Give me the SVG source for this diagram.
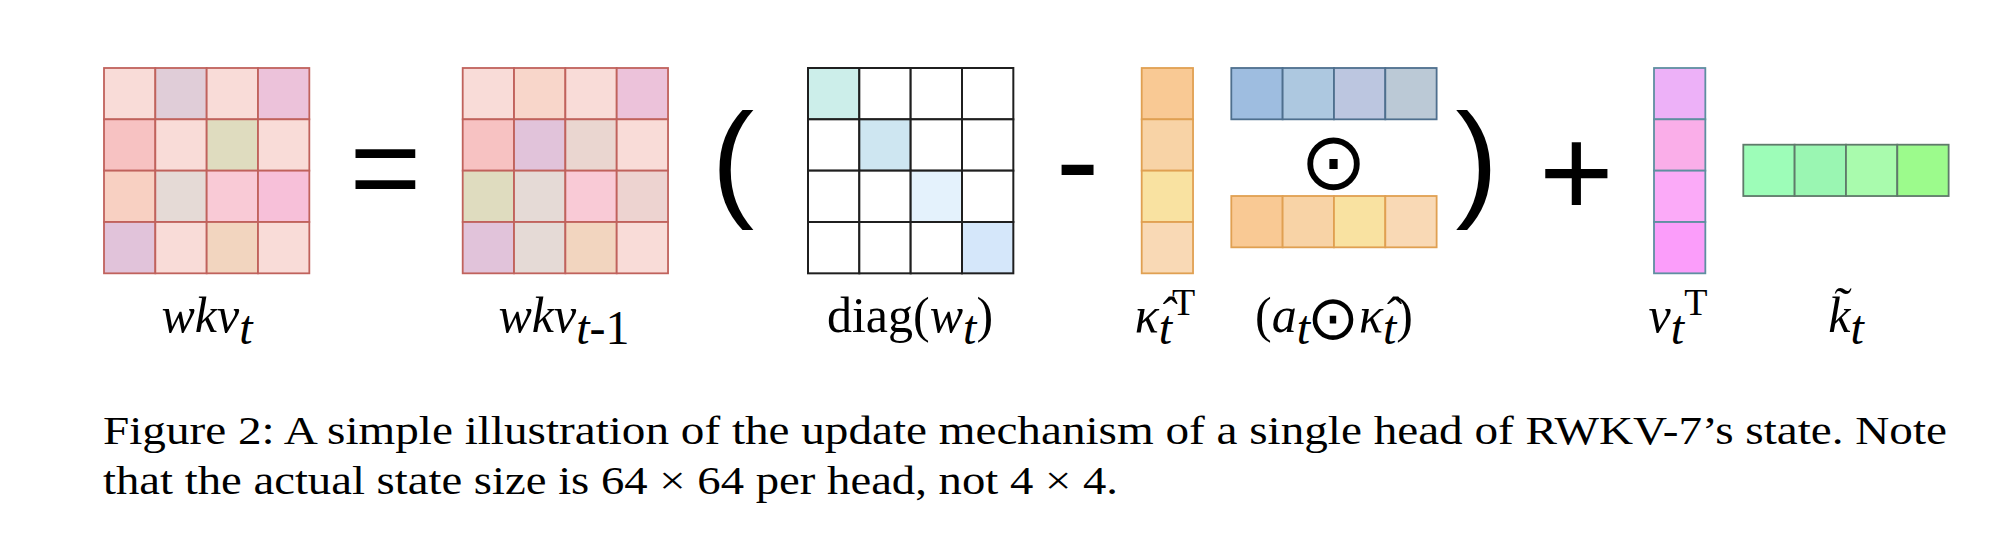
<svg xmlns="http://www.w3.org/2000/svg" width="2016" height="560" viewBox="0 0 2016 560">
<style>
.bg{fill:#ffffff}
.wk{stroke:#C0625C;stroke-width:1.8}
.dg{stroke:#1f1f1f;stroke-width:2}
.or{stroke:#E0A052;stroke-width:1.8}
.bl{stroke:#4E6F8E;stroke-width:1.8}
.pk{stroke:#5E8FA0;stroke-width:1.8}
.gr{stroke:#5F7A6A;stroke-width:1.8}
.op{font-family:"Liberation Sans",Arial,sans-serif;fill:#000;text-anchor:middle}
.lb{font-family:"Liberation Serif","Times New Roman",serif;font-size:50px;fill:#000;text-anchor:middle}
.it{font-style:italic}
.cap{font-family:"Liberation Serif","Times New Roman",serif;font-size:41px;fill:#000}
.sym{font-family:"DejaVu Sans",sans-serif;font-style:normal;font-weight:200}
</style>
<rect class="bg" x="0" y="0" width="2016" height="560"/>

<g id="wkv_t">
<rect class="wk" x="104" y="68" width="51.33" height="51.33" fill="#F9DCD8"/>
<rect class="wk" x="155.33" y="68" width="51.33" height="51.33" fill="#E0CDD8"/>
<rect class="wk" x="206.67" y="68" width="51.33" height="51.33" fill="#F9DCD8"/>
<rect class="wk" x="258" y="68" width="51.33" height="51.33" fill="#ECC2DA"/>
<rect class="wk" x="104" y="119.33" width="51.33" height="51.33" fill="#F7C2C2"/>
<rect class="wk" x="155.33" y="119.33" width="51.33" height="51.33" fill="#F9DCD8"/>
<rect class="wk" x="206.67" y="119.33" width="51.33" height="51.33" fill="#DFDCBF"/>
<rect class="wk" x="258" y="119.33" width="51.33" height="51.33" fill="#F9DCD8"/>
<rect class="wk" x="104" y="170.67" width="51.33" height="51.33" fill="#F8D0C2"/>
<rect class="wk" x="155.33" y="170.67" width="51.33" height="51.33" fill="#E5DAD6"/>
<rect class="wk" x="206.67" y="170.67" width="51.33" height="51.33" fill="#F9CAD6"/>
<rect class="wk" x="258" y="170.67" width="51.33" height="51.33" fill="#F7C0D9"/>
<rect class="wk" x="104" y="222" width="51.33" height="51.33" fill="#E1C3DA"/>
<rect class="wk" x="155.33" y="222" width="51.33" height="51.33" fill="#F9DCD8"/>
<rect class="wk" x="206.67" y="222" width="51.33" height="51.33" fill="#F2D5BF"/>
<rect class="wk" x="258" y="222" width="51.33" height="51.33" fill="#F9DCD8"/>
<text class="lb it" x="207" y="332">wkv<tspan dy="12" font-size="48">t</tspan></text>
</g>

<g id="equals">
<text class="op" x="385.5" y="209.5" font-size="123">=</text>
</g>

<g id="wkv_t_1">
<rect class="wk" x="462.7" y="68" width="51.33" height="51.33" fill="#F9DCD8"/>
<rect class="wk" x="514.03" y="68" width="51.33" height="51.33" fill="#F8D6CA"/>
<rect class="wk" x="565.37" y="68" width="51.33" height="51.33" fill="#F9DCD8"/>
<rect class="wk" x="616.7" y="68" width="51.33" height="51.33" fill="#ECC2DA"/>
<rect class="wk" x="462.7" y="119.33" width="51.33" height="51.33" fill="#F7C2C2"/>
<rect class="wk" x="514.03" y="119.33" width="51.33" height="51.33" fill="#E1C3DA"/>
<rect class="wk" x="565.37" y="119.33" width="51.33" height="51.33" fill="#EAD6D0"/>
<rect class="wk" x="616.7" y="119.33" width="51.33" height="51.33" fill="#F9DCD8"/>
<rect class="wk" x="462.7" y="170.67" width="51.33" height="51.33" fill="#DFDCBF"/>
<rect class="wk" x="514.03" y="170.67" width="51.33" height="51.33" fill="#E5DAD6"/>
<rect class="wk" x="565.37" y="170.67" width="51.33" height="51.33" fill="#F9CAD6"/>
<rect class="wk" x="616.7" y="170.67" width="51.33" height="51.33" fill="#EDD3D0"/>
<rect class="wk" x="462.7" y="222" width="51.33" height="51.33" fill="#E1C3DA"/>
<rect class="wk" x="514.03" y="222" width="51.33" height="51.33" fill="#E5DAD6"/>
<rect class="wk" x="565.37" y="222" width="51.33" height="51.33" fill="#F2D5BF"/>
<rect class="wk" x="616.7" y="222" width="51.33" height="51.33" fill="#F9DCD8"/>
<text class="lb it" x="564" y="332">wkv<tspan dy="12" font-size="48">t<tspan font-style="normal">-1</tspan></tspan></text>
</g>

<g id="lparen">
<text class="op" x="732.7" y="203" font-size="128">(</text>
</g>

<g id="diag_w">
<rect class="dg" x="808" y="68" width="51.33" height="51.33" fill="#CCEEEA"/>
<rect class="dg" x="859.33" y="68" width="51.33" height="51.33" fill="#FFFFFF"/>
<rect class="dg" x="910.67" y="68" width="51.33" height="51.33" fill="#FFFFFF"/>
<rect class="dg" x="962" y="68" width="51.33" height="51.33" fill="#FFFFFF"/>
<rect class="dg" x="808" y="119.33" width="51.33" height="51.33" fill="#FFFFFF"/>
<rect class="dg" x="859.33" y="119.33" width="51.33" height="51.33" fill="#CEE6F1"/>
<rect class="dg" x="910.67" y="119.33" width="51.33" height="51.33" fill="#FFFFFF"/>
<rect class="dg" x="962" y="119.33" width="51.33" height="51.33" fill="#FFFFFF"/>
<rect class="dg" x="808" y="170.67" width="51.33" height="51.33" fill="#FFFFFF"/>
<rect class="dg" x="859.33" y="170.67" width="51.33" height="51.33" fill="#FFFFFF"/>
<rect class="dg" x="910.67" y="170.67" width="51.33" height="51.33" fill="#E4F2FC"/>
<rect class="dg" x="962" y="170.67" width="51.33" height="51.33" fill="#FFFFFF"/>
<rect class="dg" x="808" y="222" width="51.33" height="51.33" fill="#FFFFFF"/>
<rect class="dg" x="859.33" y="222" width="51.33" height="51.33" fill="#FFFFFF"/>
<rect class="dg" x="910.67" y="222" width="51.33" height="51.33" fill="#FFFFFF"/>
<rect class="dg" x="962" y="222" width="51.33" height="51.33" fill="#D5E7FA"/>
<text class="lb" x="910" y="332">diag(<tspan class="it">w</tspan><tspan class="it" dy="12" font-size="48">t</tspan><tspan dy="-12">)</tspan></text>
</g>

<g id="minus">
<text class="op" x="1077.5" y="204.8" font-size="131">-</text>
</g>

<g id="kappa_T">
<rect class="or" x="1141.7" y="68" width="51.33" height="51.33" fill="#F9C994"/>
<rect class="or" x="1141.7" y="119.33" width="51.33" height="51.33" fill="#F8D3A6"/>
<rect class="or" x="1141.7" y="170.67" width="51.33" height="51.33" fill="#F9E2A1"/>
<rect class="or" x="1141.7" y="222" width="51.33" height="51.33" fill="#F9D9B5"/>
<text class="lb it" x="1165" y="332">κ̂<tspan dy="12" font-size="48">t</tspan><tspan font-style="normal" dy="-29" font-size="38">T</tspan></text>
</g>

<g id="a_row">
<rect class="bl" x="1231.3" y="68" width="51.33" height="51.33" fill="#9EBDE0"/>
<rect class="bl" x="1282.63" y="68" width="51.33" height="51.33" fill="#ADC8E0"/>
<rect class="bl" x="1333.97" y="68" width="51.33" height="51.33" fill="#BCC6E0"/>
<rect class="bl" x="1385.3" y="68" width="51.33" height="51.33" fill="#BBC9D6"/>
</g>

<g id="hadamard">
<text class="sym" x="1333" y="188.6" font-size="80" text-anchor="middle">⊙</text>
</g>

<g id="kappa_row">
<rect class="or" x="1231.3" y="196" width="51.33" height="51.33" fill="#F9C994"/>
<rect class="or" x="1282.63" y="196" width="51.33" height="51.33" fill="#F8D3A6"/>
<rect class="or" x="1333.97" y="196" width="51.33" height="51.33" fill="#F9E2A1"/>
<rect class="or" x="1385.3" y="196" width="51.33" height="51.33" fill="#F9D9B5"/>
<text class="lb" x="1334" y="332">(<tspan class="it">a</tspan><tspan class="it" dy="12" font-size="48">t</tspan><tspan class="sym" dx="-3" dy="-5" font-size="62">⊙</tspan><tspan class="it" dy="-7">κ̂</tspan><tspan class="it" dy="12" font-size="48">t</tspan><tspan dy="-12">)</tspan></text>
</g>

<g id="rparen">
<text class="op" x="1476.7" y="203" font-size="128">)</text>
</g>

<g id="plus">
<text class="op" x="1576.3" y="215.7" font-size="128">+</text>
</g>

<g id="v_T">
<rect class="pk" x="1654" y="68" width="51.33" height="51.33" fill="#EDB1F8"/>
<rect class="pk" x="1654" y="119.33" width="51.33" height="51.33" fill="#FAAEE9"/>
<rect class="pk" x="1654" y="170.67" width="51.33" height="51.33" fill="#FBAAF8"/>
<rect class="pk" x="1654" y="222" width="51.33" height="51.33" fill="#FB9DFA"/>
<text class="lb it" x="1678" y="332">v<tspan dy="12" font-size="48">t</tspan><tspan font-style="normal" dy="-29" font-size="38">T</tspan></text>
</g>

<g id="k_tilde">
<rect class="gr" x="1743.3" y="144.7" width="51.33" height="51.33" fill="#9DFDB8"/>
<rect class="gr" x="1794.63" y="144.7" width="51.33" height="51.33" fill="#9AF6B2"/>
<rect class="gr" x="1845.97" y="144.7" width="51.33" height="51.33" fill="#A9FBAD"/>
<rect class="gr" x="1897.3" y="144.7" width="51.33" height="51.33" fill="#9CFB8C"/>
<text class="lb it" x="1846" y="332">k̃<tspan dy="12" font-size="48">t</tspan></text>
</g>

<g id="caption">
<text class="cap" x="103" y="443.5" textLength="1844" lengthAdjust="spacingAndGlyphs">Figure 2: A simple illustration of the update mechanism of a single head of RWKV-7’s state. Note</text>
<text class="cap" x="103" y="494" textLength="1015" lengthAdjust="spacingAndGlyphs">that the actual state size is 64 × 64 per head, not 4 × 4.</text>
</g>
</svg>
